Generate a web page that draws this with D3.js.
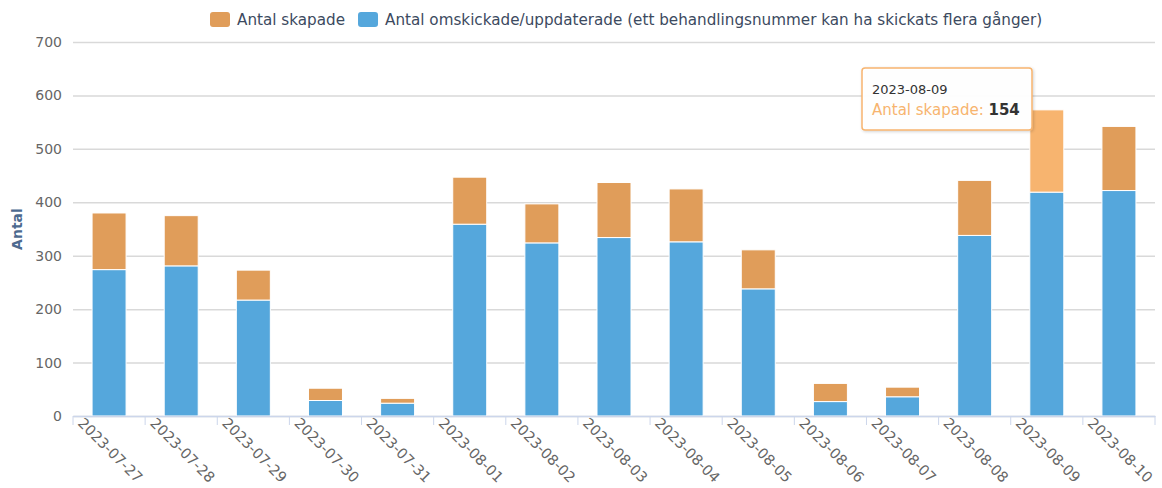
<!DOCTYPE html>
<html>
<head>
    <meta charset="utf-8">
    <script src="https://d3js.org/d3.v7.min.js"></script>
    <style>
        body { margin: 0; background: #fff; }
        svg text { font-family: "DejaVu Sans", sans-serif; }
    </style>
</head>
<body>
    <div id="chart"></div>

    <script>
        // data
        var dates = ["2023-07-27", "2023-07-28", "2023-07-29", "2023-07-30", "2023-07-31",
            "2023-08-01", "2023-08-02", "2023-08-03", "2023-08-04", "2023-08-05",
            "2023-08-06", "2023-08-07", "2023-08-08", "2023-08-09", "2023-08-10"];
        var skapade = [106, 94, 56, 23, 9, 88, 73, 103, 99, 73, 34, 18, 103, 154, 120];
        var omskickade = [274, 281, 217, 29, 24, 359, 324, 334, 326, 238, 27, 36, 338, 419, 422];
        var yTicks = [0, 100, 200, 300, 400, 500, 600, 700];
        var seriesNames = ["Antal skapade", "Antal omskickade/uppdaterade (ett behandlingsnummer kan ha skickats flera gånger)"];
        var hoverDate = "2023-08-09";

        var colOrange = "#e09d5a", colOrangeHover = "#f7b46f", colBlue = "#55a7dc";

        var W = 1162, H = 488;
        var margin = { top: 42, right: 7, bottom: 72, left: 73 };
        var plotW = W - margin.left - margin.right,
            plotH = H - margin.top - margin.bottom;

        var svg = d3.select("#chart").append("svg")
            .attr("width", W)
            .attr("height", H);

        var defs = svg.append("defs");
        var f = defs.append("filter").attr("id", "shadow")
            .attr("x", "-20%").attr("y", "-20%").attr("width", "140%").attr("height", "150%");
        f.append("feDropShadow").attr("dx", 1).attr("dy", 1).attr("stdDeviation", 1.5)
            .attr("flood-color", "#000").attr("flood-opacity", 0.18);

        var g = svg.append("g")
            .attr("transform", "translate(" + margin.left + "," + margin.top + ")");

        var x = d3.scaleBand()
            .domain(dates)
            .range([0, plotW]);

        var y = d3.scaleLinear()
            .domain([0, 700])
            .range([plotH, 0]);

        // grid + y labels
        var yAxis = d3.axisLeft(y)
            .tickValues(yTicks)
            .tickSize(-plotW)
            .tickPadding(11);
        var ya = g.append("g").attr("class", "y axis").call(yAxis);
        ya.select(".domain").remove();
        ya.selectAll(".tick line").attr("stroke", "#d9d9d9").attr("stroke-width", 1.5);
        ya.selectAll(".tick text")
            .attr("fill", "#666")
            .style("font-size", "14px");

        // stacked bars
        var rows = dates.map(function (d, i) {
            return { date: d, skapade: skapade[i], omskickade: omskickade[i] };
        });
        var stack = d3.stack().keys(["omskickade", "skapade"]);
        var layers = stack(rows);

        var barW = 34;
        var off = (x.bandwidth() - barW) / 2;

        g.selectAll("g.layer")
            .data(layers)
            .enter().append("g")
            .attr("class", "layer")
            .each(function (layer) {
                d3.select(this).selectAll("rect")
                    .data(layer)
                    .enter().append("rect")
                    .attr("x", function (d) { return x(d.data.date) + off; })
                    .attr("width", barW)
                    .attr("y", function (d) { return y(d[1]); })
                    .attr("height", function (d) { return y(d[0]) - y(d[1]); })
                    .attr("fill", function (d) {
                        if (layer.key == "omskickade") return colBlue;
                        return d.data.date == hoverDate ? colOrangeHover : colOrange;
                    })
                    .attr("stroke", "#fff")
                    .attr("stroke-width", 1);
            });

        // x axis
        var xAxis = d3.axisBottom(x).tickSize(0).tickFormat("");
        var xa = g.append("g").attr("class", "x axis")
            .attr("transform", "translate(0," + plotH + ")")
            .call(xAxis);
        xa.select(".domain").attr("stroke", "#ccd6eb").attr("stroke-width", 1.5);

        // tick marks at category boundaries
        var bounds = dates.map(function (d) { return x(d); }).concat([plotW]);
        xa.selectAll("line.bound")
            .data(bounds)
            .enter().append("line")
            .attr("class", "bound")
            .attr("x1", function (d) { return d; })
            .attr("x2", function (d) { return d; })
            .attr("y1", 0).attr("y2", 9)
            .attr("stroke", "#ccd6eb").attr("stroke-width", 1);

        xa.selectAll("text.xl")
            .data(dates)
            .enter().append("text")
            .attr("class", "xl")
            .attr("text-anchor", "start")
            .attr("transform", function (d) {
                return "translate(" + (x(d) + 4) + "," + 8 + ") rotate(45)";
            })
            .attr("fill", "#666")
            .style("font-size", "14.5px")
            .text(function (d) { return d; });

        // y title
        svg.append("text")
            .attr("transform", "translate(22," + (margin.top + plotH / 2) + ") rotate(-90)")
            .attr("text-anchor", "middle")
            .attr("fill", "#4d6a8f")
            .style("font-size", "14px")
            .style("font-weight", "bold")
            .text("Antal");

        // legend
        var legend = svg.append("g").attr("class", "legend");
        var lx = 210;
        seriesNames.forEach(function (name, i) {
            var item = legend.append("g").attr("transform", "translate(" + lx + ",12)");
            item.append("rect")
                .attr("width", 20).attr("height", 15).attr("rx", 3)
                .attr("fill", i == 0 ? colOrange : colBlue);
            var t = item.append("text")
                .attr("x", 27).attr("y", 13)
                .attr("fill", "#3c4a60")
                .style("font-size", "15.2px")
                .text(name);
            lx += 27 + t.node().getComputedTextLength() + 13;
        });

        // tooltip
        var hi = dates.indexOf(hoverDate);
        var tip = svg.append("g")
            .attr("transform", "translate(862,68)");
        tip.append("rect")
            .attr("width", 170).attr("height", 62).attr("rx", 3)
            .attr("fill", "rgba(255,255,255,0.96)")
            .attr("stroke", colOrangeHover).attr("stroke-width", 1.5)
            .attr("filter", "url(#shadow)");
        tip.append("text")
            .attr("x", 10).attr("y", 26)
            .attr("fill", "#333")
            .style("font-size", "13px")
            .text(hoverDate);
        var t2 = tip.append("text")
            .attr("x", 10).attr("y", 47)
            .style("font-size", "15px");
        t2.append("tspan").attr("fill", colOrangeHover).text(seriesNames[0] + ": ");
        t2.append("tspan").attr("fill", "#333").style("font-weight", "bold").text(skapade[hi]);
    </script>
</body>
</html>
